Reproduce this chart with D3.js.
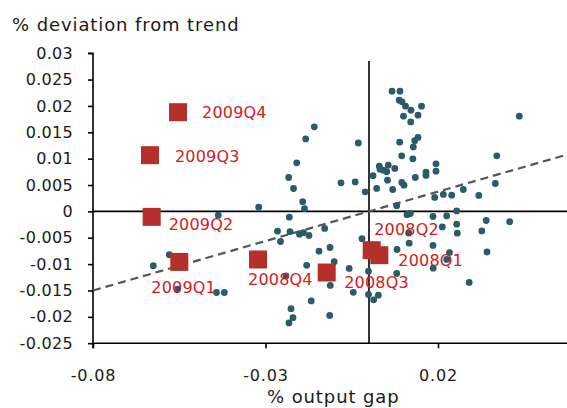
<!DOCTYPE html>
<html>
<head>
<meta charset="utf-8">
<script src="https://cdn.jsdelivr.net/npm/d3@7"></script>
<style>
  html, body { margin: 0; padding: 0; background: #fff; }
  svg { display: block; font-family: "DejaVu Sans", Verdana, sans-serif; }
</style>
</head>
<body>
<svg id="chart" width="567" height="408"></svg>
<script>
// ---- data ----
const dotX = [-0.06252,-0.05788,-0.05551,-0.04368,-0.04420,-0.04194,-0.03197,-0.02096,-0.02328,-0.02188,
  -0.02310,-0.02652,-0.02565,-0.02290,-0.02014,-0.01899,-0.01739,-0.02406,-0.02261,-0.02203,
  -0.02319,-0.01586,-0.01835,-0.00310,-0.01922,-0.01870,-0.00812,-0.00400,-0.00110,-0.01284,
  -0.00203,-0.01449,-0.01130,-0.01009,-0.01806,-0.00574,-0.00014,-0.01122,-0.00455,-0.00014,
  0.00270,0.00136,-0.01675,-0.01139,0.00667,0.00899,0.00875,0.00957,0.01058,0.01217,
  0.01522,0.01420,0.01000,0.01209,0.04357,0.01420,0.01325,0.00890,0.01284,0.00948,
  0.01270,0.03704,0.01942,0.01942,0.01652,0.01652,0.00299,0.00414,0.00513,0.00319,
  0.00559,0.00748,0.00116,0.00536,0.00951,0.01014,0.01342,0.00223,0.00687,0.03661,
  0.01904,0.02154,0.02397,0.02733,0.03183,0.00803,0.01101,0.01197,0.01855,0.02252,
  0.02542,0.03397,0.04078,0.02542,0.02559,0.03270,0.02125,0.01151,0.01165,0.01855,
  0.00812,0.02333,0.02252,0.03420,0.01861,0.00803,0.02904];
const dotY = [-0.01030,-0.00821,-0.01476,-0.00072,-0.01538,-0.01538,0.00080,0.00920,0.00643,0.00434,
  -0.00110,-0.00376,-0.00571,-0.00385,-0.00432,-0.00404,-0.00457,-0.01223,-0.01845,-0.02016,
  -0.02115,0.01603,0.01375,0.01297,0.00184,0.00051,0.00541,0.00559,0.00370,-0.00324,
  -0.00518,-0.00755,-0.00685,-0.00954,-0.01024,-0.01081,-0.01134,-0.01405,-0.01536,-0.01576,
  -0.01589,-0.01678,-0.01699,-0.01974,0.02280,0.02280,0.02109,0.02077,0.01995,0.01919,
  0.01995,0.01824,0.01806,0.01696,0.01806,0.01403,0.01341,0.01312,0.01223,0.01053,
  0.00996,0.01053,0.00901,0.00762,0.00743,0.00681,0.00857,0.00781,0.00753,0.00800,
  0.00876,0.00814,0.00677,0.00592,0.00550,0.00497,0.00643,0.00436,0.00415,0.00529,
  0.00264,0.00321,0.00307,0.00415,0.00302,0.00108,-0.00063,-0.00040,-0.00097,-0.00087,
  0.00009,-0.00173,-0.00195,-0.00243,-0.00413,-0.00370,-0.00294,-0.00410,-0.00603,-0.00645,
  -0.00723,-0.00783,-0.00912,-0.00770,-0.01077,-0.01178,-0.01347];

const quarters = ["2009Q4","2009Q3","2009Q2","2009Q1","2008Q4","2008Q3","2008Q2","2008Q1"];
const quarterX = [-0.05536,-0.06348,-0.06299,-0.05499,-0.03217,-0.01226,0.00078,0.00299];
const quarterY = [0.01881,0.01066,-0.00104,-0.00958,-0.00912,-0.01159,-0.00736,-0.00831];

const trendSlope = 0.1875;
const trendIntercept = 0.0;
const trendRange = [-0.08, 0.07];

const xTicks = [-0.08, -0.03, 0.02];
const yTicks = [0.03, 0.025, 0.02, 0.015, 0.01, 0.005, 0, -0.005, -0.01, -0.015, -0.02, -0.025];

const yTitle = "% deviation from trend";
const xTitle = "% output gap";

// ---- layout ----
const svg = d3.select("#chart");
const x = d3.scaleLinear().domain([-0.08, 0.07]).range([93, 610.5]);
const y = d3.scaleLinear().domain([-0.025, 0.03]).range([343.2, 53.2]);

const W = 567;
const dotColor = "#2b5a69";
const sqColor = "#b3302b";
const labColor = "#cf2020";
const textColor = "#1a1a1a";

// zero lines
svg.append("line").attr("x1", x(-0.08)).attr("x2", W)
  .attr("y1", y(0)).attr("y2", y(0)).attr("stroke", "#000").attr("stroke-width", 1.6);
svg.append("line").attr("x1", x(0)).attr("x2", x(0))
  .attr("y1", y(0.0285)).attr("y2", y(-0.025)).attr("stroke", "#000").attr("stroke-width", 1.6);

// y axis
const yAxis = d3.axisLeft(y).tickValues(yTicks).tickSize(5).tickPadding(15)
  .tickFormat(d => d === 0 ? "0" : String(+d.toFixed(3)));
const gy = svg.append("g").attr("transform", `translate(${x(-0.08)},0)`).call(yAxis);
gy.select(".domain").attr("d", `M-5,${y(0.03)}H0V${y(-0.025) + 5}`).attr("stroke", "#000").attr("stroke-width", 1.6).attr("fill", "none");
gy.selectAll(".tick line").attr("stroke", "#000").attr("stroke-width", 1.6);
gy.selectAll(".tick text").attr("font-size", 16).attr("fill", textColor)
  .attr("font-family", "DejaVu Sans").style("letter-spacing", "0.3px");

// x axis
const xAxis = d3.axisBottom(x).tickValues(xTicks).tickSize(5).tickPadding(21)
  .tickFormat(d => String(+d.toFixed(3)));
const gx = svg.append("g").attr("transform", `translate(0,${y(-0.025)})`).call(xAxis);
gx.select(".domain").attr("d", `M${x(-0.08)},0H${W}`).attr("stroke", "#000").attr("stroke-width", 1.6).attr("fill", "none");
gx.selectAll(".tick line").attr("stroke", "#000").attr("stroke-width", 1.6);
gx.selectAll(".tick text").attr("font-size", 16).attr("fill", textColor)
  .attr("font-family", "DejaVu Sans").style("letter-spacing", "0.8px");

// trend line (dashed)
svg.append("line")
  .attr("x1", x(trendRange[0])).attr("y1", y(trendSlope * trendRange[0] + trendIntercept))
  .attr("x2", x(trendRange[1])).attr("y2", y(trendSlope * trendRange[1] + trendIntercept))
  .attr("stroke", "#555").attr("stroke-width", 2.2).attr("stroke-dasharray", "8,5");

// dots
const dots = dotX.map((v, i) => ({x: v, y: dotY[i]}));
svg.append("g").selectAll("circle").data(dots).join("circle")
  .attr("cx", d => x(d.x)).attr("cy", d => y(d.y)).attr("r", 3.4)
  .attr("fill", dotColor);

// quarter squares
const qs = quarters.map((q, i) => ({q, x: quarterX[i], y: quarterY[i]}));
const S = 18;
svg.append("g").selectAll("rect").data(qs).join("rect")
  .attr("x", d => x(d.x) - S / 2).attr("y", d => y(d.y) - S / 2)
  .attr("width", S).attr("height", S).attr("fill", sqColor);

// label offsets relative to squares (dx = start of text, dy = text centre)
const labelOffsets = {
  "2009Q4": [24, 0], "2009Q3": [25, 1], "2009Q2": [17, 7.5], "2009Q1": [-28, 25],
  "2008Q4": [-10, 20], "2008Q3": [17.5, 9.5], "2008Q2": [2.5, -20.5], "2008Q1": [19, 5]
};
svg.append("g").selectAll("text").data(qs).join("text")
  .attr("x", d => x(d.x) + labelOffsets[d.q][0])
  .attr("y", d => y(d.y) + labelOffsets[d.q][1])
  .attr("dy", "0.36em")
  .attr("font-size", 16).attr("fill", labColor).style("letter-spacing", "0.2px")
  .text(d => d.q);

// titles
svg.append("text").attr("x", 12).attr("y", 31).attr("font-size", 18)
  .attr("fill", textColor).style("letter-spacing", "0.9px").text(yTitle);
svg.append("text").attr("x", 267).attr("y", 403).attr("font-size", 18)
  .attr("fill", textColor).style("letter-spacing", "0.9px").text(xTitle);
</script>
</body>
</html>
